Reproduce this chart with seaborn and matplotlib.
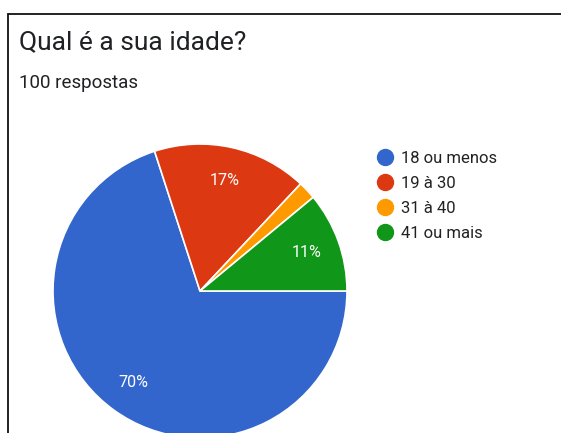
import matplotlib
matplotlib.use("Agg")
import matplotlib.pyplot as plt
from matplotlib.lines import Line2D
import seaborn as sns

# Survey answers: "Qual é a sua idade?"
categories = ["18 ou menos", "19 à 30", "31 à 40", "41 ou mais"]
values = [70, 17, 2, 11]
pct_labels = ["70%", "17%", "", "11%"]
colors = ["#3366cc", "#dc3912", "#ff9900", "#109618"]
title = "Qual é a sua idade?"
subtitle = "100 respostas"

sns.set_theme(style="white")
plt.rcParams["font.family"] = ["Roboto", "DejaVu Sans"]

W, H = 561, 433
fig = plt.figure(figsize=(W / 100, H / 100), dpi=100)
fig.patch.set_facecolor("white")

# Card border (top and left edges)
fig.add_artist(Line2D([8 / W, 1.0], [1 - 14 / H, 1 - 14 / H], color="#111111",
                      lw=1.3, transform=fig.transFigure))
fig.add_artist(Line2D([8 / W, 8 / W], [0, 1 - 14 / H], color="#111111",
                      lw=1.3, transform=fig.transFigure))

fig.text(19 / W, 1 - 42 / H, title, fontsize=19, color="#202124",
         va="center", ha="left")
fig.text(19 / W, 1 - 83 / H, subtitle, fontsize=13.5, color="#202124",
         va="center", ha="left")

# Pie: centre (200, 291) px, radius 147 px
cx, cy, r = 200, 291, 147
ax = fig.add_axes([(cx - r) / W, (H - cy - r) / H, 2 * r / W, 2 * r / H])
wedges, texts = ax.pie(
    values, colors=colors, startangle=0, counterclock=False,
    labels=pct_labels, labeldistance=0.77,
    wedgeprops=dict(edgecolor="white", linewidth=1.2),
    textprops=dict(color="white", fontsize=11.5),
)
for t in texts:
    t.set_ha("center")
    t.set_va("center")
ax.set_xlim(-1, 1)
ax.set_ylim(-1, 1)
ax.set_aspect("equal")
ax.axis("off")

# Legend: round markers with labels, one row every 25 px
for i, (cat, c) in enumerate(zip(categories, colors)):
    y = 1 - (157 + 25 * i) / H
    fig.add_artist(Line2D([385 / W], [y], marker="o", linestyle="none",
                          markersize=11.5, markerfacecolor=c,
                          markeredgecolor=c, transform=fig.transFigure))
    fig.text(401 / W, y, cat, fontsize=12, color="#222222",
             va="center_baseline", ha="left")

fig.savefig("out.png", dpi=100, facecolor="white")
